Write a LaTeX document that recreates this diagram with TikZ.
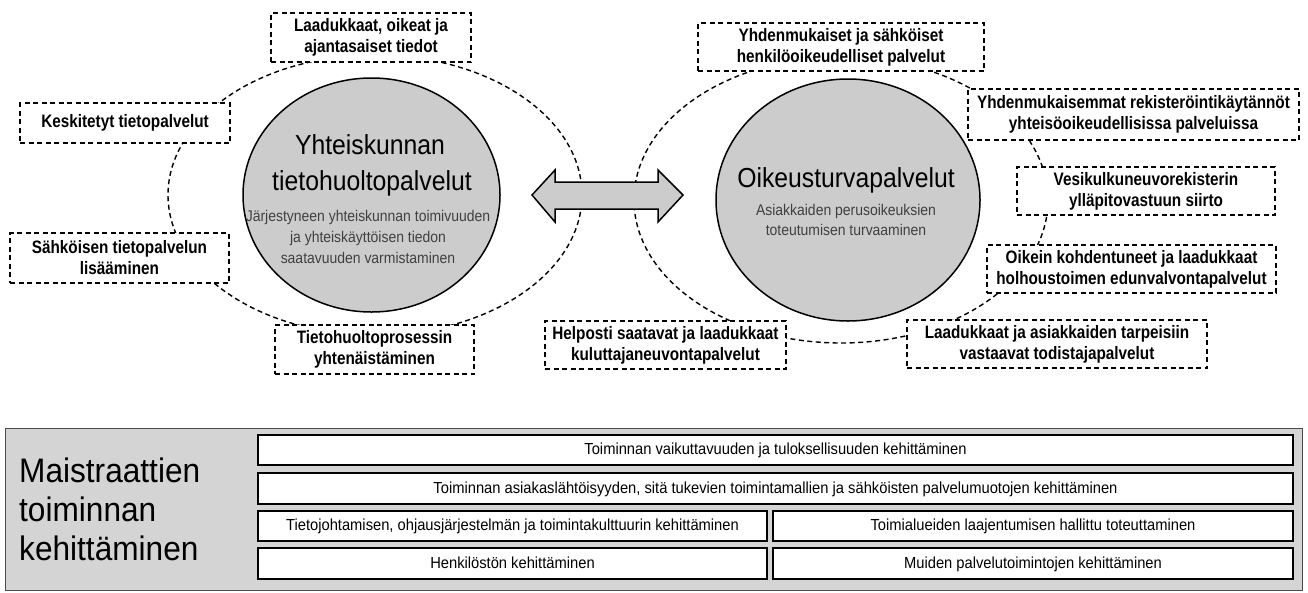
\documentclass[tikz,border=0pt]{standalone}
\usepackage{fontspec}
\setmainfont{Liberation Sans}
\newfontfamily\boxfont[FakeStretch=0.85]{Liberation Sans}
\newfontfamily\narrowfont[FakeStretch=0.9]{Liberation Sans}
\newfontfamily\rowfont[FakeStretch=0.92]{Liberation Sans}
\newfontfamily\titlefont[FakeStretch=0.93]{Liberation Sans}
\usetikzlibrary{shapes.geometric}
\definecolor{circgray}{gray}{0.80}
\definecolor{panelgray}{gray}{0.83}
\begin{document}
\begin{tikzpicture}[x=1pt,y=-1pt,
  dashline/.style={line width=1.4pt, dash pattern=on 5pt off 3.5pt},
  tbox/.style={draw=black, dashline, fill=white, inner sep=0pt, align=center,
    font=\boxfont\bfseries\fontsize{18}{21}\selectfont},
  bigcirc/.style={ellipse, draw=black, line width=1.5pt, fill=circgray, inner sep=0pt},
  bigtext/.style={font=\narrowfont\fontsize{27.5}{30}\selectfont, inner sep=0pt},
  smalltext/.style={font=\narrowfont\fontsize{15.5}{21}\selectfont, text=black!75, align=center, inner sep=0pt},
  rowbox/.style={draw=black, line width=1.4pt, fill=white, inner sep=0pt,
    text height=12pt, text depth=3pt,
    font=\rowfont\fontsize{16}{18}\selectfont}
]
\useasboundingbox (0,0) rectangle (1308,592);

% dashed rings
\draw[dashline] (375,195) ellipse [x radius=207, y radius=140];
\draw[dashline] (841,200) ellipse [x radius=207, y radius=143];

% circles
\node[bigcirc, minimum width=257pt, minimum height=234pt] (lc) at (371.5,195) {};
\node[bigcirc, minimum width=264pt, minimum height=242pt] (rc) at (848,200) {};

\node[bigtext] (lt1) at (370,145) {Yhteiskunnan};
\node[bigtext] (lt2) at (372,183) {tietohuoltopalvelut};
\node[smalltext] (lt3) at (368,237) {Järjestyneen yhteiskunnan toimivuuden\\ja yhteiskäyttöisen tiedon\\saatavuuden varmistaminen};

\node[bigtext] (rt1) at (846,180) {Oikeusturvapalvelut};
\node[smalltext, font=\narrowfont\fontsize{15.5}{20}\selectfont] (rt2) at (846,220) {Asiakkaiden perusoikeuksien\\toteutumisen turvaaminen};

% double arrow
\draw[line width=1.5pt, fill=circgray, line join=miter]
  (532,195) -- (555,170) -- (555,182) -- (658,182) -- (658,170) -- (683,195)
  -- (658,222) -- (658,209) -- (555,209) -- (555,222) -- cycle;

% boxes left
\node[tbox, minimum width=200pt, minimum height=49pt] (b1) at (371,37.5) {Laadukkaat, oikeat ja\\ajantasaiset tiedot};
\node[tbox, minimum width=210pt, minimum height=40pt] (b2) at (125,123) {Keskitetyt tietopalvelut};
\node[tbox, minimum width=219pt, minimum height=50pt] (b3) at (119.5,258) {Sähköisen tietopalvelun\\lisääminen};
\node[tbox, minimum width=199pt, minimum height=49pt] (b4) at (374.5,349.5) {Tietohuoltoprosessin\\yhtenäistäminen};

% boxes right
\node[tbox, minimum width=286pt, minimum height=48pt] (b5) at (841,47) {Yhdenmukaiset ja sähköiset\\henkilöoikeudelliset palvelut};
\node[tbox, minimum width=331pt, minimum height=51pt] (b6) at (1133.5,114.5) {Yhdenmukaisemmat rekisteröintikäytännöt\\yhteisöoikeudellisissa palveluissa};
\node[tbox, minimum width=258pt, minimum height=48pt] (b7) at (1146,191) {Vesikulkuneuvorekisterin\\ylläpitovastuun siirto};
\node[tbox, minimum width=289pt, minimum height=48pt] (b8) at (1131.5,269) {Oikein kohdentuneet ja laadukkaat\\holhoustoimen edunvalvontapalvelut};
\node[tbox, minimum width=300pt, minimum height=48pt] (b9) at (1057,344) {Laadukkaat ja asiakkaiden tarpeisiin\\vastaavat todistajapalvelut};
\node[tbox, minimum width=241pt, minimum height=48pt] (b10) at (665.5,345) {Helposti saatavat ja laadukkaat\\kuluttajaneuvontapalvelut};

% bottom panel
\node[draw=black!70, line width=1pt, fill=panelgray, minimum width=1297pt, minimum height=162pt, inner sep=0pt] (panel) at (653.5,509) {};
\node[anchor=west, align=left, inner sep=0pt, font=\titlefont\fontsize{34}{39}\selectfont] (title) at (19,509) {Maistraattien\\toiminnan\\kehittäminen};

\node[rowbox, minimum width=1035pt, minimum height=30pt] (r1) at (775.5,450) {Toiminnan vaikuttavuuden ja tuloksellisuuden kehittäminen};
\node[rowbox, minimum width=1035pt, minimum height=31pt] (r2) at (775.5,488.5) {Toiminnan asiakaslähtöisyyden, sitä tukevien toimintamallien ja sähköisten palvelumuotojen kehittäminen};
\node[rowbox, minimum width=509pt, minimum height=30pt] (r3l) at (512.5,526) {Tietojohtamisen, ohjausjärjestelmän ja toimintakulttuurin kehittäminen};
\node[rowbox, minimum width=520pt, minimum height=30pt] (r3r) at (1033,526) {Toimialueiden laajentumisen hallittu toteuttaminen};
\node[rowbox, minimum width=509pt, minimum height=31pt] (r4l) at (512.5,563.5) {Henkilöstön kehittäminen};
\node[rowbox, minimum width=520pt, minimum height=31pt] (r4r) at (1033,563.5) {Muiden palvelutoimintojen kehittäminen};
\end{tikzpicture}
\end{document}
